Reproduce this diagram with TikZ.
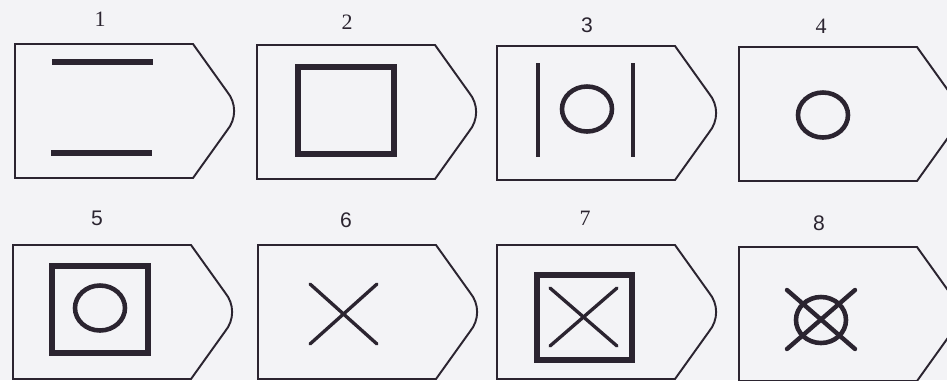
\documentclass[tikz,border=0pt]{standalone}
\usepackage{fontspec}
\newfontfamily\labsans{Liberation Sans}
\newfontfamily\labserif{Liberation Serif}
\usetikzlibrary{positioning}

\begin{document}
\begin{tikzpicture}[x=0.02cm, y=-0.02cm]

% ---------------------------------------------------------------- colours
\definecolor{ink}{HTML}{2B2430}    % outlines and symbols
\definecolor{paper}{HTML}{F3F3F6}  % the page

% ================================================================
% Coordinates are pixels of the 947 x 380 page, y counted downwards.
%
%   tag: straight part 178 wide, 134 high, pointed nose to x+219
%   column pitch about 241, rows at y = 44 and y = 245
%   the right column runs off the page, as does the bottom row
% ================================================================

\tikzset{
    tagline/.style={draw=ink, line width=1.1pt, line join=miter},
    barline/.style={draw=ink, line width=3.1pt},
    boxline/.style={draw=ink, line width=3.3pt},
    ringline/.style={draw=ink, line width=2.6pt},
    crossline/.style={draw=ink, line width=1.9pt, line cap=round},
    numlab/.style={text=ink, inner sep=0pt,
        font=\labserif\fontsize{12.5}{14}\selectfont},
    numsans/.style={numlab, font=\labsans\fontsize{12}{14}\selectfont},
}

\fill[paper] (0,0) rectangle (947,380);
\useasboundingbox (0,0) rectangle (947,380);

% ================================================================ tags
\foreach \x/\y in {15/44, 257/45, 497/46, 739/47,
                   13/245, 258/245, 497/245, 739/247} {
    \draw[tagline] (\x,\y) -- (\x+178,\y) -- (\x+212,\y+47.5)
        .. controls (\x+221.5,\y+59) and (\x+221.5,\y+75) .. (\x+212,\y+86.5)
        -- (\x+178,\y+134) -- (\x,\y+134) -- cycle;
}

% ================================================================ numbers
\node[numlab]  (lab1) at (100,19) {1};
\node[numlab]  (lab2) at (347,22) {2};
\node[numsans] (lab3) at (587,25) {3};
\node[numlab]  (lab4) at (821,26) {4};
\node[numsans] (lab5) at (97,218) {5};
\node[numsans] (lab6) at (346,220) {6};
\node[numlab]  (lab7) at (585,218) {7};
\node[numsans] (lab8) at (819,223) {8};

% ================================================================ symbols
% 1: two bars
\draw[barline] (52,62) -- (153,62);
\draw[barline] (51,153) -- (152,153);

% 2: square
\draw[boxline] (298,67) rectangle (394,154);

% 3: bar, ring, bar
\draw[ringline, line width=2.3pt] (538,63) -- (538,157);
\draw[ringline, line width=2.3pt] (633,63) -- (633,157);
\draw[ringline] (587,109) ellipse [x radius=25, y radius=22.5];

% 4: ring
\draw[ringline] (823,115) ellipse [x radius=25, y radius=22.5];

% 5: ring in a square
\draw[boxline] (52,266) rectangle (148,353);
\draw[ringline] (100,308) ellipse [x radius=25, y radius=22.5];

% 6: cross
\draw[crossline] (310,284) -- (377,344);
\draw[crossline] (377,284) -- (310,344);

% 7: cross in a square
\draw[boxline] (537,275) rectangle (632,360);
\draw[crossline] (550,288) -- (617,346);
\draw[crossline] (617,288) -- (550,346);

% 8: crossed ring
\draw[ringline] (821,320) ellipse [x radius=25, y radius=23];
\draw[crossline, line width=2.5pt] (787,290) -- (855,349);
\draw[crossline, line width=2.5pt] (855,290) -- (787,349);

\end{tikzpicture}
\end{document}
